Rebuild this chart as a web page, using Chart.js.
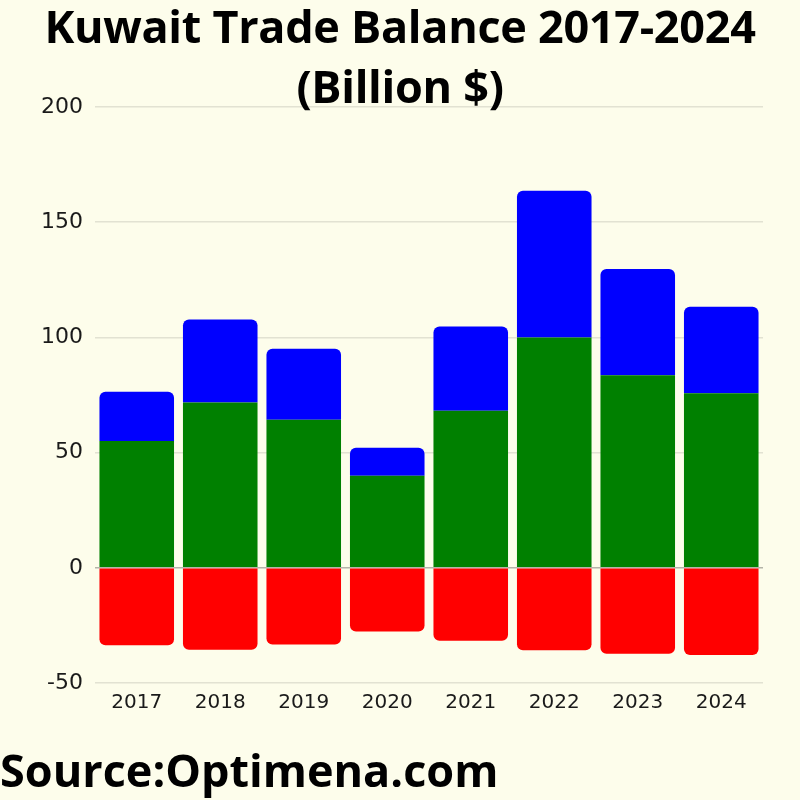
<!DOCTYPE html>
<html>
<head>
<meta charset="utf-8">
<script src="https://cdn.jsdelivr.net/npm/chart.js@4"></script>
<style>
    body { margin: 0; background: #fdfdeb; }
    #wrap { position: relative; width: 800px; height: 800px; }
    #trade-chart { position: absolute; left: 0; top: 0; }
    .chart-title {
        position: absolute; left: 0; top: -4px; width: 800px;
        text-align: center; font-family: "Open Sans", sans-serif; font-weight: 700;
        font-size: 45px; line-height: 60px; color: #000; letter-spacing: -0.3px;
    }
    .chart-source {
        position: absolute; left: 0; top: 742px;
        font-family: "Open Sans", sans-serif; font-weight: 700;
        font-size: 45px; line-height: 56px; color: #000;
    }
</style>
</head>
<body>
<div id="wrap">
    <canvas id="trade-chart" width="800" height="800"></canvas>
    <div class="chart-title">Kuwait Trade Balance 2017-2024<br>(Billion $)</div>
    <div class="chart-source">Source:Optimena.com</div>
</div>

<script>
    // values, billion $
    const years = ['2017', '2018', '2019', '2020', '2021', '2022', '2023', '2024'];
    const exportsValues = [55, 71.7, 64.3, 40, 68.2, 100, 83.6, 75.8];
    const balanceValues = [21.4, 36.1, 30.8, 12.1, 36.5, 63.7, 46.1, 37.5];
    const importsValues = [-33.6, -35.6, -33.3, -27.7, -31.7, -35.8, -37.3, -37.8];
    const yTicks = [-50, 0, 50, 100, 150, 200];

    document.addEventListener('DOMContentLoaded', () => {
        const ctx = document.getElementById('trade-chart').getContext('2d');

        window.tradeChart = new Chart(ctx, {
            type: 'bar',
            data: {
                labels: years,
                datasets: [{
                    label: 'Exports',
                    data: exportsValues,
                    backgroundColor: '#008000',
                    borderRadius: 0
                }, {
                    label: 'Trade Balance',
                    data: balanceValues,
                    backgroundColor: '#0000ff',
                    borderRadius: {topLeft: 6, topRight: 6, bottomLeft: 0, bottomRight: 0}
                }, {
                    label: 'Imports',
                    data: importsValues,
                    backgroundColor: '#ff0000',
                    borderRadius: {topLeft: 0, topRight: 0, bottomLeft: 6, bottomRight: 6}
                }]
            },
            options: {
                responsive: false,
                animation: false,
                layout: {padding: {top: 107, right: 37, bottom: 85, left: 29}},
                datasets: {bar: {barPercentage: 0.893, categoryPercentage: 1}},
                plugins: {
                    legend: {display: false},
                    title: {display: false},
                    tooltip: {enabled: false}
                },
                scales: {
                    x: {
                        stacked: true,
                        grid: {display: false},
                        border: {display: false},
                        ticks: {
                            color: '#1a1a1a',
                            padding: 0,
                            font: {family: '"DejaVu Sans", sans-serif', size: 20}
                        }
                    },
                    y: {
                        stacked: true,
                        min: -50,
                        max: 200,
                        afterBuildTicks: (scale) => {
                            scale.ticks = yTicks.map(v => ({value: v}));
                        },
                        grid: {
                            drawTicks: false,
                            lineWidth: 1.5,
                            color: (c) => c.tick && c.tick.value === 0 ? '#b4b4a8' : '#e2e2d2'
                        },
                        border: {display: false},
                        ticks: {
                            color: '#1a1a1a',
                            padding: 12,
                            font: {family: '"DejaVu Sans", sans-serif', size: 22}
                        }
                    }
                }
            }
        });
    });
</script>
</body>
</html>
